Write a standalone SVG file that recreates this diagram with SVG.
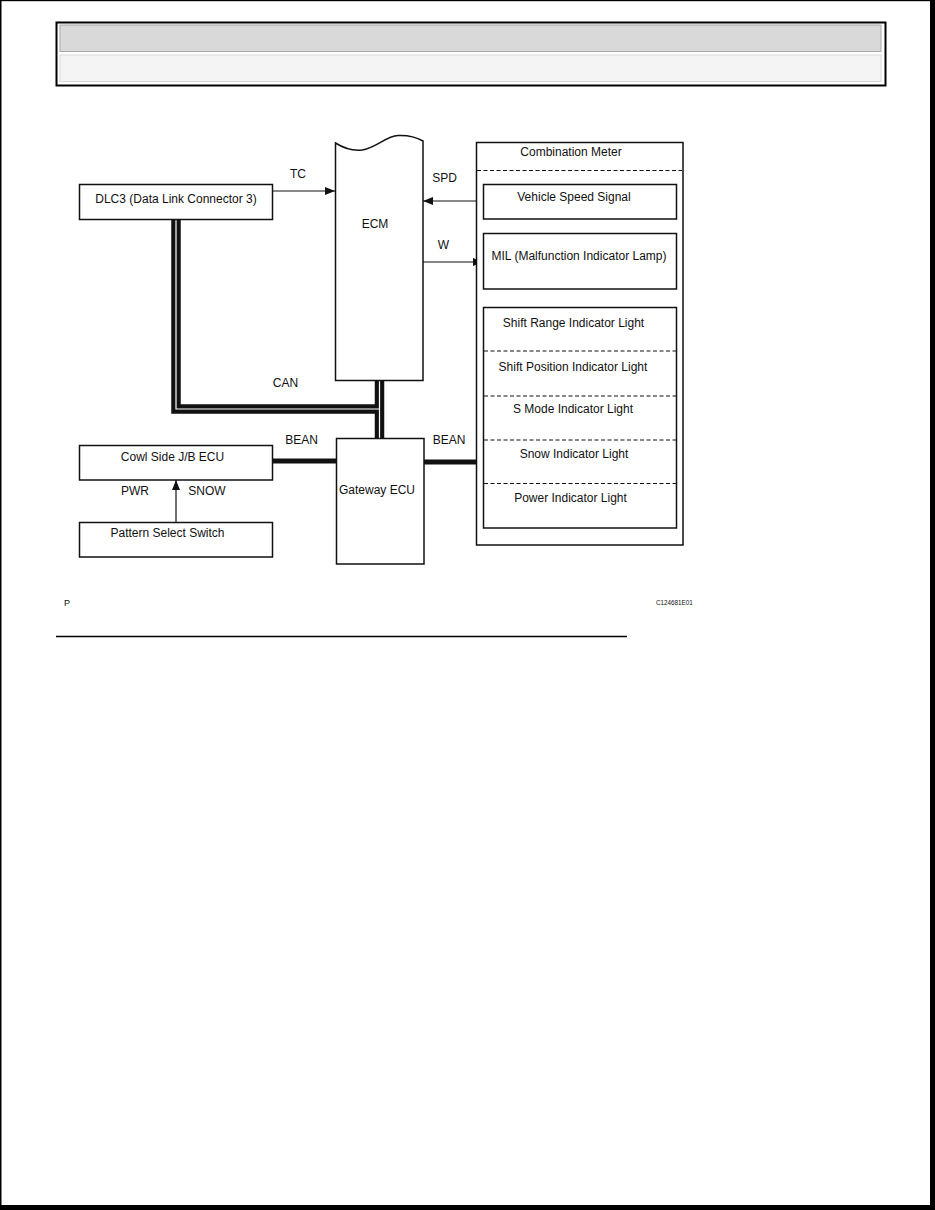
<svg xmlns="http://www.w3.org/2000/svg" width="935" height="1210" viewBox="0 0 935 1210">
<defs>
<style>
text{font-family:"Liberation Sans",Arial,sans-serif;font-size:12px;fill:#111}
.c{text-anchor:middle}
.box{fill:#fff;stroke:#111;stroke-width:1.5}
.ln{fill:none;stroke:#111;stroke-width:1.2}
.dash{fill:none;stroke:#111;stroke-width:1;stroke-dasharray:4 2.5}
.bean{fill:none;stroke:#111;stroke-width:5}
.canO{fill:none;stroke:#111;stroke-width:9.5}
.canI{fill:none;stroke:#fff;stroke-width:1.2}
</style>
<marker id="ah" viewBox="0 0 10 8" refX="10" refY="4" markerWidth="10" markerHeight="8" markerUnits="userSpaceOnUse" orient="auto">
<path d="M0,0 L10,4 L0,8 Z" fill="#111"/>
</marker>
</defs>
<rect x="0" y="0" width="935" height="1210" fill="#fff"/>
<g id="page-frame">
<rect x="0" y="0" width="1.5" height="1210" fill="#000"/>
<rect x="0" y="0" width="935" height="1.2" fill="#000"/>
<rect x="930" y="0" width="5" height="1210" fill="#000"/>
<rect x="0" y="1205" width="935" height="5" fill="#000"/>
</g>
<g id="header">
<rect x="56.5" y="22.5" width="829" height="63" fill="#fff" stroke="#000" stroke-width="2"/>
<rect x="60" y="25" width="821" height="26.5" fill="#d9d9d9" stroke="#a8a8a8" stroke-width="1"/>
<rect x="60" y="55" width="821" height="26.5" fill="#f4f4f4" stroke="#d8d8d8" stroke-width="1"/>
</g>
<g id="connectors">
<path class="canO" d="M176,220 V409 H379.5"/>
<path class="canO" d="M379.5,381 V438"/>
<path class="canI" d="M176,220 V409 H379.5"/>
<path class="canI" d="M379.5,381 V438"/>
<path class="bean" d="M273,461 H336"/>
<path class="bean" d="M424,462 H483"/>
<path class="ln" d="M273,191 H335" marker-end="url(#ah)"/>
<path class="ln" d="M483,201 H423" marker-end="url(#ah)"/>
<path class="ln" d="M423,262 H483" marker-end="url(#ah)"/>
<path class="ln" d="M176,522 V480" marker-end="url(#ah)"/>
<text x="298" y="178" class="c">TC</text>
<text x="444.5" y="182" class="c">SPD</text>
<text x="443.5" y="249" class="c">W</text>
<text x="285.5" y="387" class="c">CAN</text>
<text x="301.5" y="444" class="c">BEAN</text>
<text x="449" y="444" class="c">BEAN</text>
<text x="135" y="495" class="c">PWR</text>
<text x="207" y="495" class="c">SNOW</text>
</g>
<g id="dlc3">
<rect class="box" x="79.5" y="184.5" width="193" height="35"/>
<text x="176" y="203" class="c">DLC3 (Data Link Connector 3)</text>
</g>
<g id="ecm">
<path class="box" d="M335.5,143 C345,149 353,151 362,150 C376,148 386,136 398,135.5 C408,135 416,137 423,141 V380.5 H335.5 Z"/>
<text x="375" y="228" class="c">ECM</text>
</g>
<g id="combination-meter">
<rect class="box" x="476.5" y="142.5" width="206.5" height="402.5"/>
<text x="571" y="156" class="c">Combination Meter</text>
<path class="dash" d="M477,170.5 H682"/>
</g>
<g id="vehicle-speed-signal">
<rect class="box" x="483.5" y="184.5" width="193" height="34.5"/>
<text x="574" y="201" class="c">Vehicle Speed Signal</text>
</g>
<g id="mil">
<rect class="box" x="483.5" y="233.5" width="193" height="55.5"/>
<text x="579" y="260" class="c">MIL (Malfunction Indicator Lamp)</text>
</g>
<g id="indicator-lights">
<rect class="box" x="483.5" y="307.5" width="193" height="220.5"/>
<path class="dash" d="M484,351 H676 M484,396 H676 M484,440 H676 M484,483.5 H676"/>
<text x="573.5" y="327" class="c">Shift Range Indicator Light</text>
<text x="573" y="371" class="c">Shift Position Indicator Light</text>
<text x="573" y="413" class="c">S Mode Indicator Light</text>
<text x="574" y="458" class="c">Snow Indicator Light</text>
<text x="570.5" y="502" class="c">Power Indicator Light</text>
</g>
<g id="gateway-ecu">
<rect class="box" x="336.5" y="438.5" width="87.5" height="125.5"/>
<text x="377" y="494" class="c">Gateway ECU</text>
</g>
<g id="cowl-side-jb-ecu">
<rect class="box" x="79.5" y="445.5" width="193" height="34.5"/>
<text x="172.5" y="461" class="c">Cowl Side J/B ECU</text>
</g>
<g id="pattern-select-switch">
<rect class="box" x="79.5" y="522.5" width="193" height="34.5"/>
<text x="167.5" y="536.5" class="c">Pattern Select Switch</text>
</g>
<g id="footer">
<text x="64" y="606" style="font-size:9px">P</text>
<text x="656" y="605" style="font-size:6.3px">C124681E01</text>
<path d="M56,636.5 H627" stroke="#000" stroke-width="1.3"/>
</g>
</svg>
